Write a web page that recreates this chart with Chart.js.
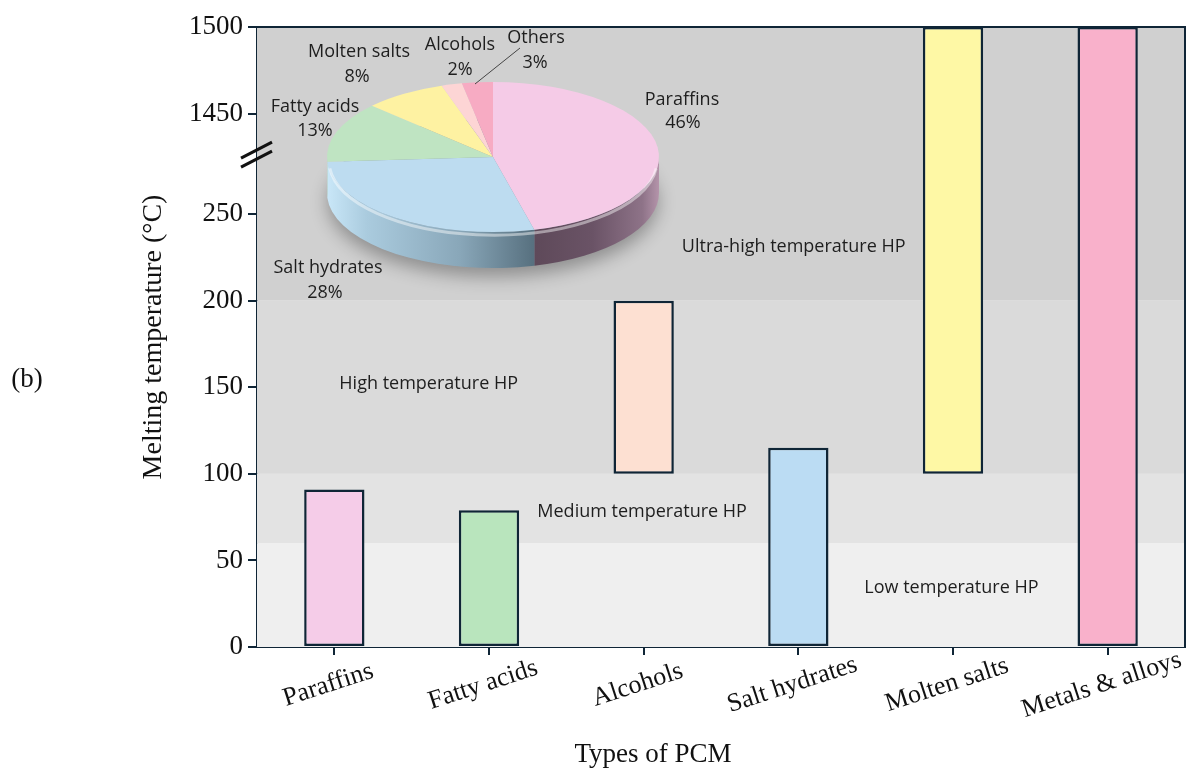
<!DOCTYPE html>
<html>
<head>
<meta charset="utf-8">
<script src="https://cdn.jsdelivr.net/npm/chart.js@4.4.0/dist/chart.umd.min.js"></script>
<style>
    html, body { margin: 0; padding: 0; background: #fff; }
    #wrap { position: relative; width: 1188px; height: 772px; overflow: hidden; }
    #mainBox { position: absolute; left: 0; top: 0; width: 1188px; height: 772px; }
    #pieBox { position: absolute; left: 253px; top: -9px; width: 480px; height: 332px; }
</style>
</head>
<body>
<div id="wrap">
    <div id="mainBox"><canvas id="barChart"></canvas></div>
    <div id="pieBox"><canvas id="pieChart"></canvas></div>
</div>
<script>
'use strict';

/* ── Data ───────────────────────────────────────────────────────── */
const categories = ['Paraffins', 'Fatty acids', 'Alcohols', 'Salt hydrates', 'Molten salts', 'Metals & alloys'];
const meltLow = [0, 0, 100, 0, 100, 0];
const meltHigh = [91, 79, 200, 115, 1500, 1500];
const barColors = ['#f5cce8', '#b9e5bd', '#fde0d2', '#bbdcf3', '#fef8a5', '#f9b1cb'];

const yTickValues = [0, 50, 100, 150, 200, 250, 1450, 1500];

const bandEdges = [0, 60, 100, 200, 1500];
const bandColors = ['#efefef', '#e3e3e3', '#dadada', '#d0d0d0'];
const bandNames = ['Low temperature HP', 'Medium temperature HP', 'High temperature HP', 'Ultra-high temperature HP'];

const pieLabels = ['Paraffins', 'Salt hydrates', 'Fatty acids', 'Molten salts', 'Alcohols', 'Others'];
const pieShares = [46, 28, 13, 8, 2, 3];
const pieColors = ['#f5cbe7', '#bddcf0', '#bfe4c2', '#fef2a2', '#fdd5d5', '#f7abc3'];

/* ── Broken y axis: 250 … 1450 is cut out ───────────────────────── */
const BREAK_LOW = 250, BREAK_HIGH = 1450, BREAK_GAP = 58;
const toAxis = v => v <= BREAK_LOW ? v : v - BREAK_HIGH + BREAK_LOW + BREAK_GAP;
const fromAxis = m => m <= BREAK_LOW ? m : m + BREAK_HIGH - BREAK_LOW - BREAK_GAP;

const INK = '#0f2536';
const SERIF = '"Liberation Serif", "Times New Roman", serif';
const SANS = '"Open Sans", "Liberation Sans", sans-serif';

/* ── Plugins for the bar chart ──────────────────────────────────── */
const bandsPlugin = {
    id: 'bands',
    beforeDatasetsDraw(chart) {
        const { ctx, chartArea: a, scales: { x, y } } = chart;
        ctx.save();
        for (let i = 0; i < bandColors.length; i++) {
            const top = y.getPixelForValue(toAxis(bandEdges[i + 1]));
            const bot = y.getPixelForValue(toAxis(bandEdges[i]));
            ctx.fillStyle = bandColors[i];
            ctx.fillRect(a.left, top, a.right - a.left, bot - top);
        }
        // band captions (x in category units, y in data units)
        const spots = [[3.99, 34], [1.99, 78], [0.61, 152], [2.97, 231]];
        ctx.fillStyle = '#1e1e1e';
        ctx.font = '18px ' + SANS;
        ctx.textAlign = 'center';
        ctx.textBaseline = 'middle';
        bandNames.forEach((name, i) => {
            ctx.fillText(name, x.getPixelForValue(spots[i][0]), y.getPixelForValue(toAxis(spots[i][1])));
        });
        ctx.restore();
    },
    afterDraw(chart) {
        const { ctx, chartArea: a, scales: { x, y } } = chart;
        ctx.save();
        // frame top + right
        ctx.strokeStyle = INK;
        ctx.lineWidth = 2;
        ctx.beginPath();
        ctx.moveTo(a.left, a.top);
        ctx.lineTo(a.right, a.top);
        ctx.lineTo(a.right, a.bottom);
        ctx.stroke();

        // axis break marks
        const yb = y.getPixelForValue(284);
        ctx.strokeStyle = '#111';
        ctx.lineWidth = 3;
        [-5, 4].forEach(d => {
            ctx.beginPath();
            ctx.moveTo(a.left - 16, yb + d + 8);
            ctx.lineTo(a.left + 15, yb + d - 8);
            ctx.stroke();
        });

        // rotated category labels
        ctx.fillStyle = '#111';
        ctx.font = '26px ' + SERIF;
        ctx.textAlign = 'center';
        ctx.textBaseline = 'middle';
        categories.forEach((c, i) => {
            ctx.save();
            ctx.translate(x.getPixelForTick(i) - 6, a.bottom + 38);
            ctx.rotate(-18 * Math.PI / 180);
            ctx.fillText(c, 0, 0);
            ctx.restore();
        });

        ctx.font = '27px ' + SERIF;
        ctx.fillText('Types of PCM', 653, 755);
        ctx.fillText('(b)', 27, 380);
        ctx.restore();
    }
};

new Chart(document.getElementById('barChart'), {
    type: 'bar',
    data: {
        labels: categories,
        datasets: [{
            data: categories.map((c, i) => [toAxis(meltLow[i]), toAxis(meltHigh[i])]),
            backgroundColor: barColors,
            borderColor: INK,
            borderWidth: 2.5,
            borderSkipped: false,
            barPercentage: 0.39,
            categoryPercentage: 1
        }]
    },
    options: {
        responsive: true,
        maintainAspectRatio: false,
        animation: false,
        events: [],
        layout: { padding: { left: 125, top: 27, right: 3, bottom: 0 } },
        plugins: { legend: { display: false }, tooltip: { enabled: false } },
        scales: {
            x: {
                afterFit: s => { s.height = 125; },
                grid: { display: true, drawOnChartArea: false, drawTicks: true, tickLength: 8, offset: false, color: INK, lineWidth: 2 },
                border: { display: true, color: INK, width: 2 },
                ticks: { display: false }
            },
            y: {
                min: 0,
                max: toAxis(1500),
                afterFit: s => { s.width = 132; },
                afterBuildTicks: axis => { axis.ticks = yTickValues.map(v => ({ value: toAxis(v) })); },
                grid: { display: true, drawOnChartArea: false, drawTicks: true, tickLength: 9, color: INK, lineWidth: 2 },
                border: { display: true, color: INK, width: 2 },
                ticks: {
                    autoSkip: false,
                    padding: 5,
                    color: '#111',
                    font: { family: SERIF, size: 27 },
                    callback: v => String(fromAxis(v))
                },
                title: {
                    display: true,
                    text: 'Melting temperature (°C)',
                    color: '#111',
                    font: { family: SERIF, size: 28 },
                    padding: { top: 12, bottom: 0 }
                }
            }
        }
    },
    plugins: [bandsPlugin]
});

/* ── 3-D looking pie inset ──────────────────────────────────────── */
const PIE_TILT = 0.452;   // vertical squash of the disc
const PIE_DEPTH = 36;     // px thickness of the rim

const sideStops = [
    [[0.62, '#5e4959'], [0.8, '#6a5366'], [0.95, '#8e7388'], [1, '#b494aa']],
    [[0, '#c9e7f8'], [0.12, '#aacbde'], [0.4, '#89a7b9'], [0.62, '#587180']],
    [[0, '#b0cfb4'], [1, '#7f9c83']],
    [[0, '#d8cd86'], [1, '#a89f62']],
    [[0, '#d8b4b4'], [1, '#a88888']],
    [[0, '#d58da6'], [1, '#a56b80']]
];

const tiltPlugin = {
    id: 'tilt',
    beforeDatasetsDraw(chart) {
        const ctx = chart.ctx;
        const arcs = chart.getDatasetMeta(0).data;
        const cx = arcs[0].x, cy = arcs[0].y, r = arcs[0].outerRadius;
        const depth = PIE_DEPTH / PIE_TILT;

        ctx.save(); // restored in afterDatasetsDraw
        ctx.translate(cx, cy);
        ctx.scale(1, PIE_TILT);
        ctx.translate(-cx, -cy);

        // soft shadow under the disc
        ctx.save();
        ctx.shadowColor = 'rgba(0,0,0,0.32)';
        ctx.shadowBlur = 18;
        ctx.shadowOffsetY = 9;
        ctx.fillStyle = '#8a9aa6';
        ctx.beginPath();
        ctx.arc(cx, cy + depth, r - 1, 0, Math.PI * 2);
        ctx.fill();
        ctx.restore();

        // visible rim (front half only)
        arcs.forEach((arc, i) => {
            const a0 = Math.max(arc.startAngle, 0);
            const a1 = Math.min(arc.endAngle, Math.PI);
            if (a1 <= a0) return;
            const g = ctx.createLinearGradient(cx - r, 0, cx + r, 0);
            sideStops[i].forEach(([p, c]) => g.addColorStop(p, c));
            ctx.fillStyle = g;
            ctx.beginPath();
            ctx.arc(cx, cy + depth, r, a0, a1);
            ctx.arc(cx, cy, r, a1, a0, true);
            ctx.closePath();
            ctx.fill();
        });
    },
    afterDatasetsDraw(chart) {
        const ctx = chart.ctx;
        const arc = chart.getDatasetMeta(0).data[0];
        const cx = arc.x, cy = arc.y, r = arc.outerRadius;
        // bevel highlight along the front edge
        ctx.beginPath();
        ctx.arc(cx, cy + 4 / PIE_TILT, r - 2, 0.1, Math.PI - 0.1);
        ctx.restore();
        ctx.save();
        ctx.strokeStyle = 'rgba(255,255,255,0.45)';
        ctx.lineWidth = 3;
        ctx.stroke();
        ctx.restore();
    },
    afterDraw(chart) {
        const ctx = chart.ctx;
        const arc = chart.getDatasetMeta(0).data[0];
        const cx = arc.x, cy = arc.y;
        // label spots relative to disc centre: [name dx, name dy, pct dx, pct dy]
        const spots = [
            [189, -57, 190, -34],
            [-165, 111, -168, 136],
            [-178, -50, -178, -26],
            [-134, -105, -136, -80],
            [-33, -112, -33, -87],
            [43, -119, 42, -94]
        ];
        ctx.save();
        ctx.fillStyle = '#1e1e1e';
        ctx.font = '18px ' + SANS;
        ctx.textAlign = 'center';
        ctx.textBaseline = 'middle';
        pieLabels.forEach((name, i) => {
            const s = spots[i];
            ctx.fillText(name, cx + s[0], cy + s[1]);
            ctx.fillText(pieShares[i] + '%', cx + s[2], cy + s[3]);
        });
        // leader line for "Others"
        ctx.strokeStyle = '#444';
        ctx.lineWidth = 1;
        ctx.beginPath();
        ctx.moveTo(cx + 27, cy - 109);
        ctx.lineTo(cx - 18, cy - 73);
        ctx.stroke();
        ctx.restore();
    }
};

new Chart(document.getElementById('pieChart'), {
    type: 'pie',
    data: {
        labels: pieLabels,
        datasets: [{ data: pieShares, backgroundColor: pieColors, borderWidth: 0 }]
    },
    options: {
        responsive: true,
        maintainAspectRatio: false,
        animation: false,
        events: [],
        layout: { padding: 0 },
        plugins: { legend: { display: false }, tooltip: { enabled: false } }
    },
    plugins: [tiltPlugin]
});
</script>
</body>
</html>
